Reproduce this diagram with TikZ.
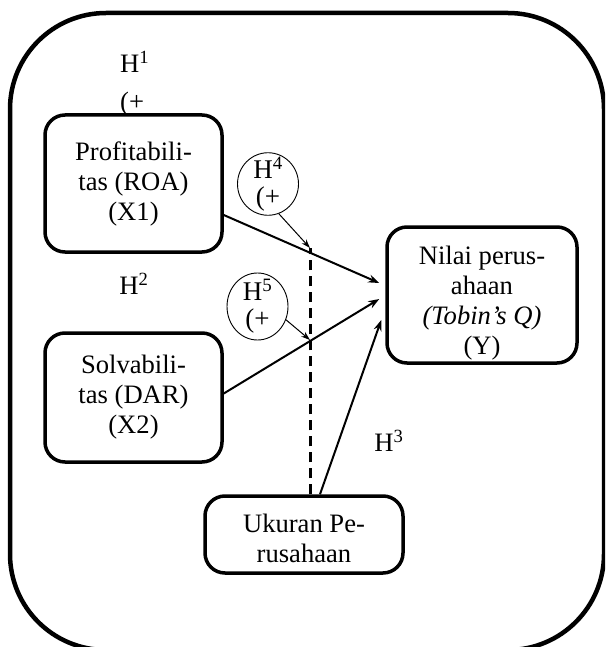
\documentclass[tikz,border=0pt]{standalone}
\usepackage{fontspec}
\setmainfont{Liberation Serif}
\usetikzlibrary{shapes.geometric,arrows.meta,calc}
\begin{document}
\begin{tikzpicture}[x=1pt,y=-1pt,
  box/.style={draw, line width=3.5pt, rounded corners=20pt, align=center, inner sep=0pt, font=\fontsize{26.6}{30}\selectfont},
  hyp/.style={draw, ellipse, line width=0.9pt, align=center, inner sep=-5pt, font=\fontsize{27}{27}\selectfont},
  lbl/.style={align=left, inner sep=0pt, font=\fontsize{26.6}{30}\selectfont},
  arr/.style={line width=2pt, -{Stealth[length=11pt,width=8pt]}},
  thinarr/.style={line width=1pt, -{Stealth[length=9pt,width=6pt]}}
]
\useasboundingbox (0,0) rectangle (605,647);
\clip (0,0) rectangle (605,647);
\draw[line width=4.5pt, rounded corners=96pt] (10,13) rectangle (604,650);

\node[box, minimum width=177pt, minimum height=137pt] (X1) at (133.5,183.5) {Profitabili-\\tas (ROA)\\(X1)};
\node[box, minimum width=177pt, minimum height=129pt] (X2) at (133.5,397.5) {Solvabili-\\tas (DAR)\\(X2)};
\node[box, minimum width=190pt, minimum height=136pt] (Y) at (482,295) {\rule{0pt}{34pt}Nilai perus-\\ahaan\\\textit{(Tobin’s Q)}\\(Y)};
\node[box, minimum width=198pt, minimum height=77pt] (U) at (304,534.5) {\rule{0pt}{26pt}Ukuran Pe-\\rusahaan};

\node[hyp, minimum width=61pt, minimum height=62pt] (H4) at (268,184) {H\textsuperscript{4}\\(+};
\node[hyp, minimum width=61pt, minimum height=67pt] (H5) at (257.5,306.5) {H\textsuperscript{5}\\(+};

\node[lbl, anchor=west] (H1) at (120,84) {H\textsuperscript{1}\\[8pt](+};
\node[lbl] (H2) at (134,284) {H\textsuperscript{2}};
\node[lbl] (H3) at (389,441) {H\textsuperscript{3}};

\coordinate (dtop) at (310,248);
\coordinate (d5) at (310,340);

\draw[arr] ($(X1.east)+(0,31.5)$) -- ($(Y.west)+(-6,-12)$);
\draw[arr] ($(X2.east)+(0,-4)$) -- ($(Y.west)+(-6,4)$);
\draw[arr] ($(U.north)+(16,0)$) -- ($(Y.west)+(-4,25)$);
\draw[line width=3pt, dash pattern=on 10pt off 6pt] ($(U.north)+(6,0)$) -- (dtop);
\draw[thinarr] (H4.-70) -- (dtop);
\draw[thinarr] (H5.-25) -- (d5);
\end{tikzpicture}
\end{document}
